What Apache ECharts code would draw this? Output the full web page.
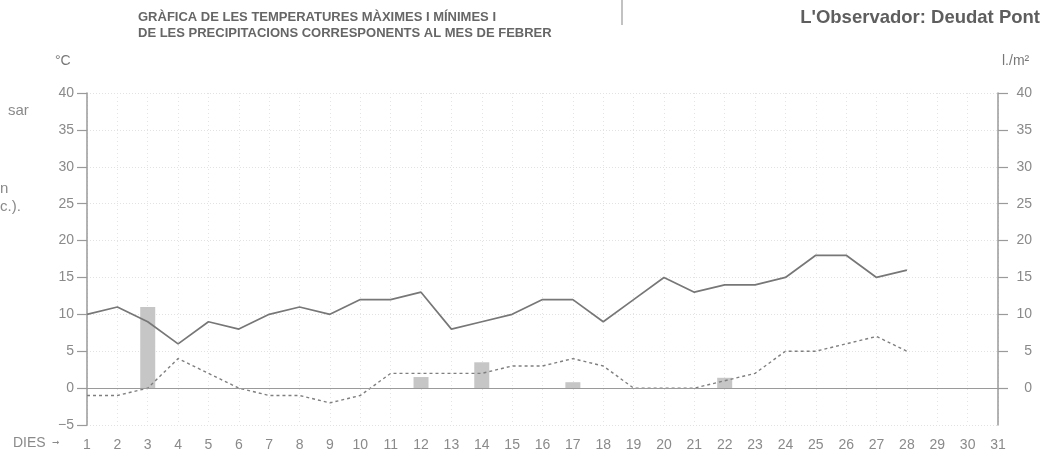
<!DOCTYPE html>
<html><head><meta charset="utf-8">
<script src="https://cdn.jsdelivr.net/npm/echarts@6/dist/echarts.min.js"></script>
<style>html,body{margin:0;padding:0;background:#fff}#c{width:1042px;height:452px}</style>
</head><body><div id="c"></div>
<script>
const days = Array.from({length:31},(_,i)=>String(i+1));
const tMax = [10,11,9,6,9,8,10,11,10,12,12,13,8,9,10,12,12,9,12,15,13,14,14,15,18,18,15,16,null,null,null];
const tMin = [-1,-1,0,4,2,0,-1,-1,-2,-1,2,2,2,2,3,3,4,3,0,0,0,1,2,5,5,6,7,5,null,null,null];
const rain = [0,0,11,0,0,0,0,0,0,0,0,1.5,0,3.5,0,0,0.8,0,0,0,0,1.4,0,0,0,0,0,0,0,0,0];
const rainTicks = [0,5,10,15,20,25,30,35,40];

const font = '"Liberation Sans",sans-serif';
const chart = echarts.init(document.getElementById('c'));
chart.setOption({
  animation:false,
  backgroundColor:'#fff',
  grid:{left:87,right:44,top:93,bottom:21},
  xAxis:{type:'category',data:days,boundaryGap:false,
    axisLine:{show:false},axisTick:{show:false},
    axisLabel:{color:'#8a8a8a',fontSize:14,fontFamily:font,margin:13,interval:0},
    splitLine:{show:true,lineStyle:{color:'#e4e4e4',type:[1,3],width:1}}},
  yAxis:[
    {type:'value',min:-5,max:40,interval:5,position:'left',
     axisLine:{show:true,lineStyle:{color:'#9a9a9a',width:1.5}},
     axisTick:{show:true,length:10,lineStyle:{color:'#9a9a9a',width:1.2}},
     axisLabel:{color:'#8a8a8a',fontSize:14,fontFamily:font,margin:13,
       formatter:v=>v<0?'−'+Math.abs(v):String(v)},
     splitLine:{show:true,lineStyle:{color:'#e2e2e2',type:[1,2],width:1}}},
    {type:'value',min:-5,max:40,interval:5,position:'right',
     axisLine:{show:true,lineStyle:{color:'#9a9a9a',width:1.5}},
     axisTick:{show:true,length:10,customValues:rainTicks,lineStyle:{color:'#9a9a9a',width:1.2}},
     axisLabel:{color:'#8a8a8a',fontSize:14,fontFamily:font,margin:34,align:'right',
       customValues:rainTicks},
     splitLine:{show:false}}
  ],
  series:[
    {type:'bar',yAxisIndex:1,data:rain,barWidth:15,itemStyle:{color:'#c6c6c6'},z:1,
     markLine:{silent:true,symbol:'none',label:{show:false},
       lineStyle:{color:'#9a9a9a',type:'solid',width:1.2},data:[{yAxis:0}]}},
    {type:'line',data:tMax,symbol:'none',lineStyle:{color:'#777',width:1.7},z:3},
    {type:'line',data:tMin,symbol:'none',lineStyle:{color:'#7f7f7f',width:1.4,type:[3,3]},z:3}
  ],
  graphic:[
    {type:'text',left:138,top:9,style:{text:'GRÀFICA DE LES TEMPERATURES MÀXIMES I MÍNIMES I\nDE LES PRECIPITACIONS CORRESPONENTS AL MES DE FEBRER',
      fill:'#666',font:'bold 13px '+font,lineHeight:16}},
    {type:'text',right:2,top:8,style:{text:"L'Observador: Deudat Pont",fill:'#5e5e5e',font:'bold 18.5px '+font}},
    {type:'line',shape:{x1:622,y1:0,x2:622,y2:25},style:{stroke:'#999',lineWidth:1.2}},
    {type:'text',left:55,top:54,style:{text:'°C',fill:'#777',font:'14px '+font}},
    {type:'text',left:1002,top:54,style:{text:'l./m²',fill:'#777',font:'14px '+font}},
    {type:'text',left:13,top:436,style:{text:'DIES',fill:'#8a8a8a',font:'14px '+font}},
    {type:'text',left:52,top:438,style:{text:'➞',fill:'#8a8a8a',font:'9px "DejaVu Sans"'}},
    {type:'text',left:8,top:103,style:{text:'sar',fill:'#8a8a8a',font:'15px '+font}},
    {type:'text',left:0,top:181,style:{text:'n',fill:'#8a8a8a',font:'15px '+font}},
    {type:'text',left:0,top:199,style:{text:'c.).',fill:'#8a8a8a',font:'15px '+font}}
  ]
});
</script></body></html>
